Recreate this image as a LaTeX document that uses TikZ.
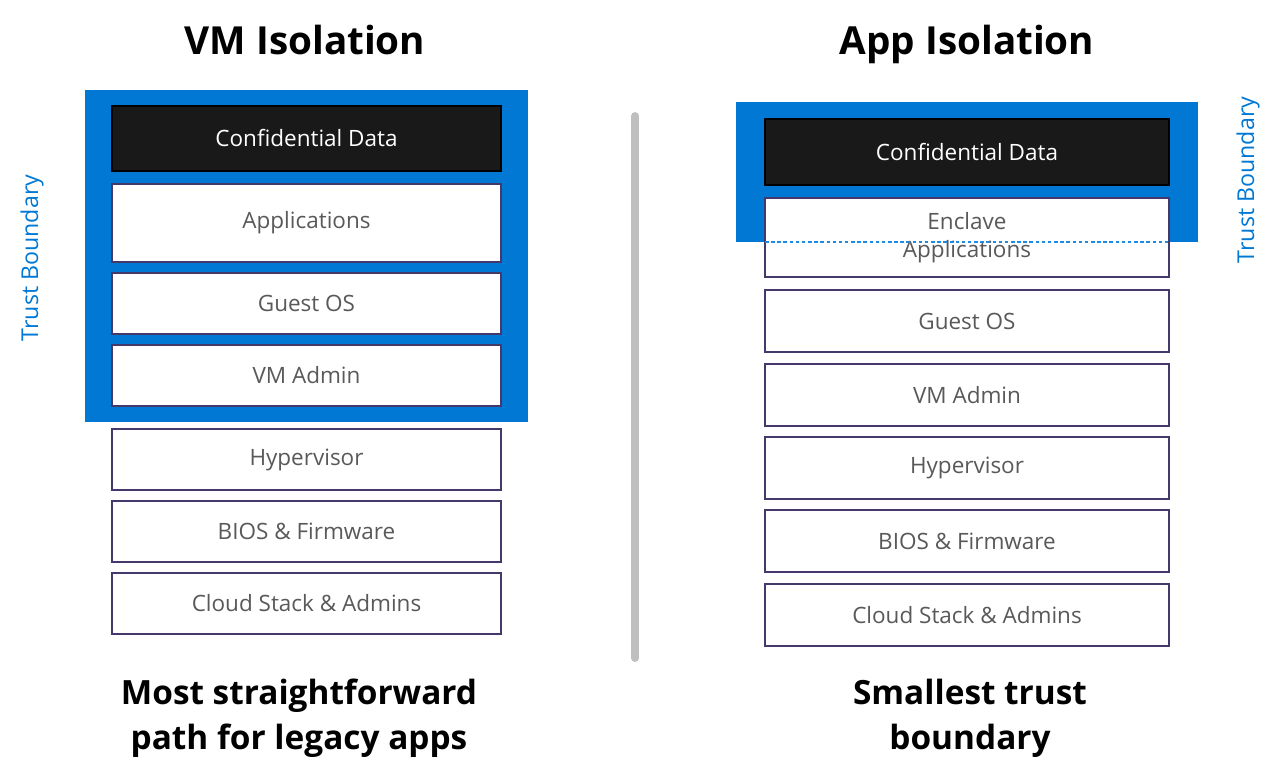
\documentclass[tikz,border=0pt]{standalone}
\usepackage{fontspec}
\setmainfont{Open Sans}
\usepackage{xcolor}
\usepackage{tikz}
\usetikzlibrary{positioning,fit,calc,backgrounds}

\definecolor{msblue}{HTML}{0078D4}
\definecolor{dashblue}{HTML}{1A8CE8}
\definecolor{layerline}{HTML}{45386B}
\definecolor{labelgray}{HTML}{595959}
\definecolor{datablack}{HTML}{191919}
\definecolor{divgray}{HTML}{BFBFBF}

\begin{document}
\begin{tikzpicture}[
  font=\fontsize{12.8}{16}\selectfont,
  layer/.style={draw=layerline, line width=1.1pt, fill=white, text=labelgray, align=center, inner sep=0pt, outer sep=0pt, minimum height=1.22cm},
  vmlayer/.style={layer, minimum width=7.78cm},
  applayer/.style={layer, minimum width=8.08cm, minimum height=1.24cm},
  secret/.style={fill=datablack, draw=black, text=white},
  trust/.style={fill=msblue, draw=none},
  tb/.style={text=msblue, rotate=90, font=\fontsize{13.2}{16}\selectfont},
  title/.style={anchor=base, font=\fontsize{22}{26}\selectfont\bfseries},
  caption/.style={font=\fontsize{19}{25.5}\selectfont\bfseries, align=center}
]
\useasboundingbox (0,0) rectangle (25.52,-15.62);

% VM isolation
\node[title] (vmtitle) at (6.1,-1.1) {VM Isolation};
\node[vmlayer, secret, minimum height=1.3cm] (vmdata) at (6.13,-2.77) {Confidential Data};
\node[vmlayer, minimum height=1.56cm, below=0.26cm of vmdata] (vmapps) {Applications};
\node[vmlayer, below=0.22cm of vmapps] (vmguest) {Guest OS};
\node[vmlayer, below=0.22cm of vmguest] (vmadmin) {VM Admin};
\node[vmlayer, below=0.46cm of vmadmin] (vmhyp) {Hypervisor};
\node[vmlayer, below=0.22cm of vmhyp] (vmbios) {BIOS \& Firmware};
\node[vmlayer, below=0.22cm of vmbios] (vmcloud) {Cloud Stack \& Admins};
\begin{scope}[on background layer]
\node[trust, fit=(vmdata)(vmadmin), inner xsep=0.54cm, inner ysep=0.32cm] (vmtrust) {};
\end{scope}
\node[tb] (vmtb) at (0.64,-5.16) {Trust Boundary};
\node[caption] (vmcap) at (5.98,-14.36) {Most straightforward\\path for legacy apps};

% divider
\coordinate (divtop) at (12.7,-2.32);
\coordinate (divbot) at (12.7,-13.16);
\draw[divgray, line width=4.5pt, line cap=round] (divtop) -- (divbot);

% App isolation
\node[title] (apptitle) at (19.34,-1.1) {App Isolation};
\node[applayer, secret, minimum height=1.32cm] (appdata) at (19.34,-3.04) {Confidential Data};
\node[applayer, minimum height=1.58cm, below=0.26cm of appdata] (appencl) {Enclave\\Applications};
\node[applayer, below=0.26cm of appencl] (appguest) {Guest OS};
\node[applayer, below=0.24cm of appguest] (appadmin) {VM Admin};
\node[applayer, below=0.22cm of appadmin] (apphyp) {Hypervisor};
\node[applayer, below=0.22cm of apphyp] (appbios) {BIOS \& Firmware};
\node[applayer, below=0.24cm of appbios] (appcloud) {Cloud Stack \& Admins};
\coordinate (cutw) at ($(appencl.west)+(0,-0.09)$);
\coordinate (cute) at ($(appencl.east)+(0,-0.09)$);
\begin{scope}[on background layer]
\fill[msblue] ($(appdata.north west)+(-0.58,0.34)$) rectangle ($(cute)+(0.58,0)$);
\end{scope}
\draw[dashblue, line width=0.8pt, dash pattern=on 2pt off 1.5pt] (cutw) -- (cute);
\node[tb] (apptb) at (24.96,-3.6) {Trust Boundary};
\node[caption] (appcap) at (19.4,-14.36) {Smallest trust\\boundary};
\end{tikzpicture}
\end{document}
